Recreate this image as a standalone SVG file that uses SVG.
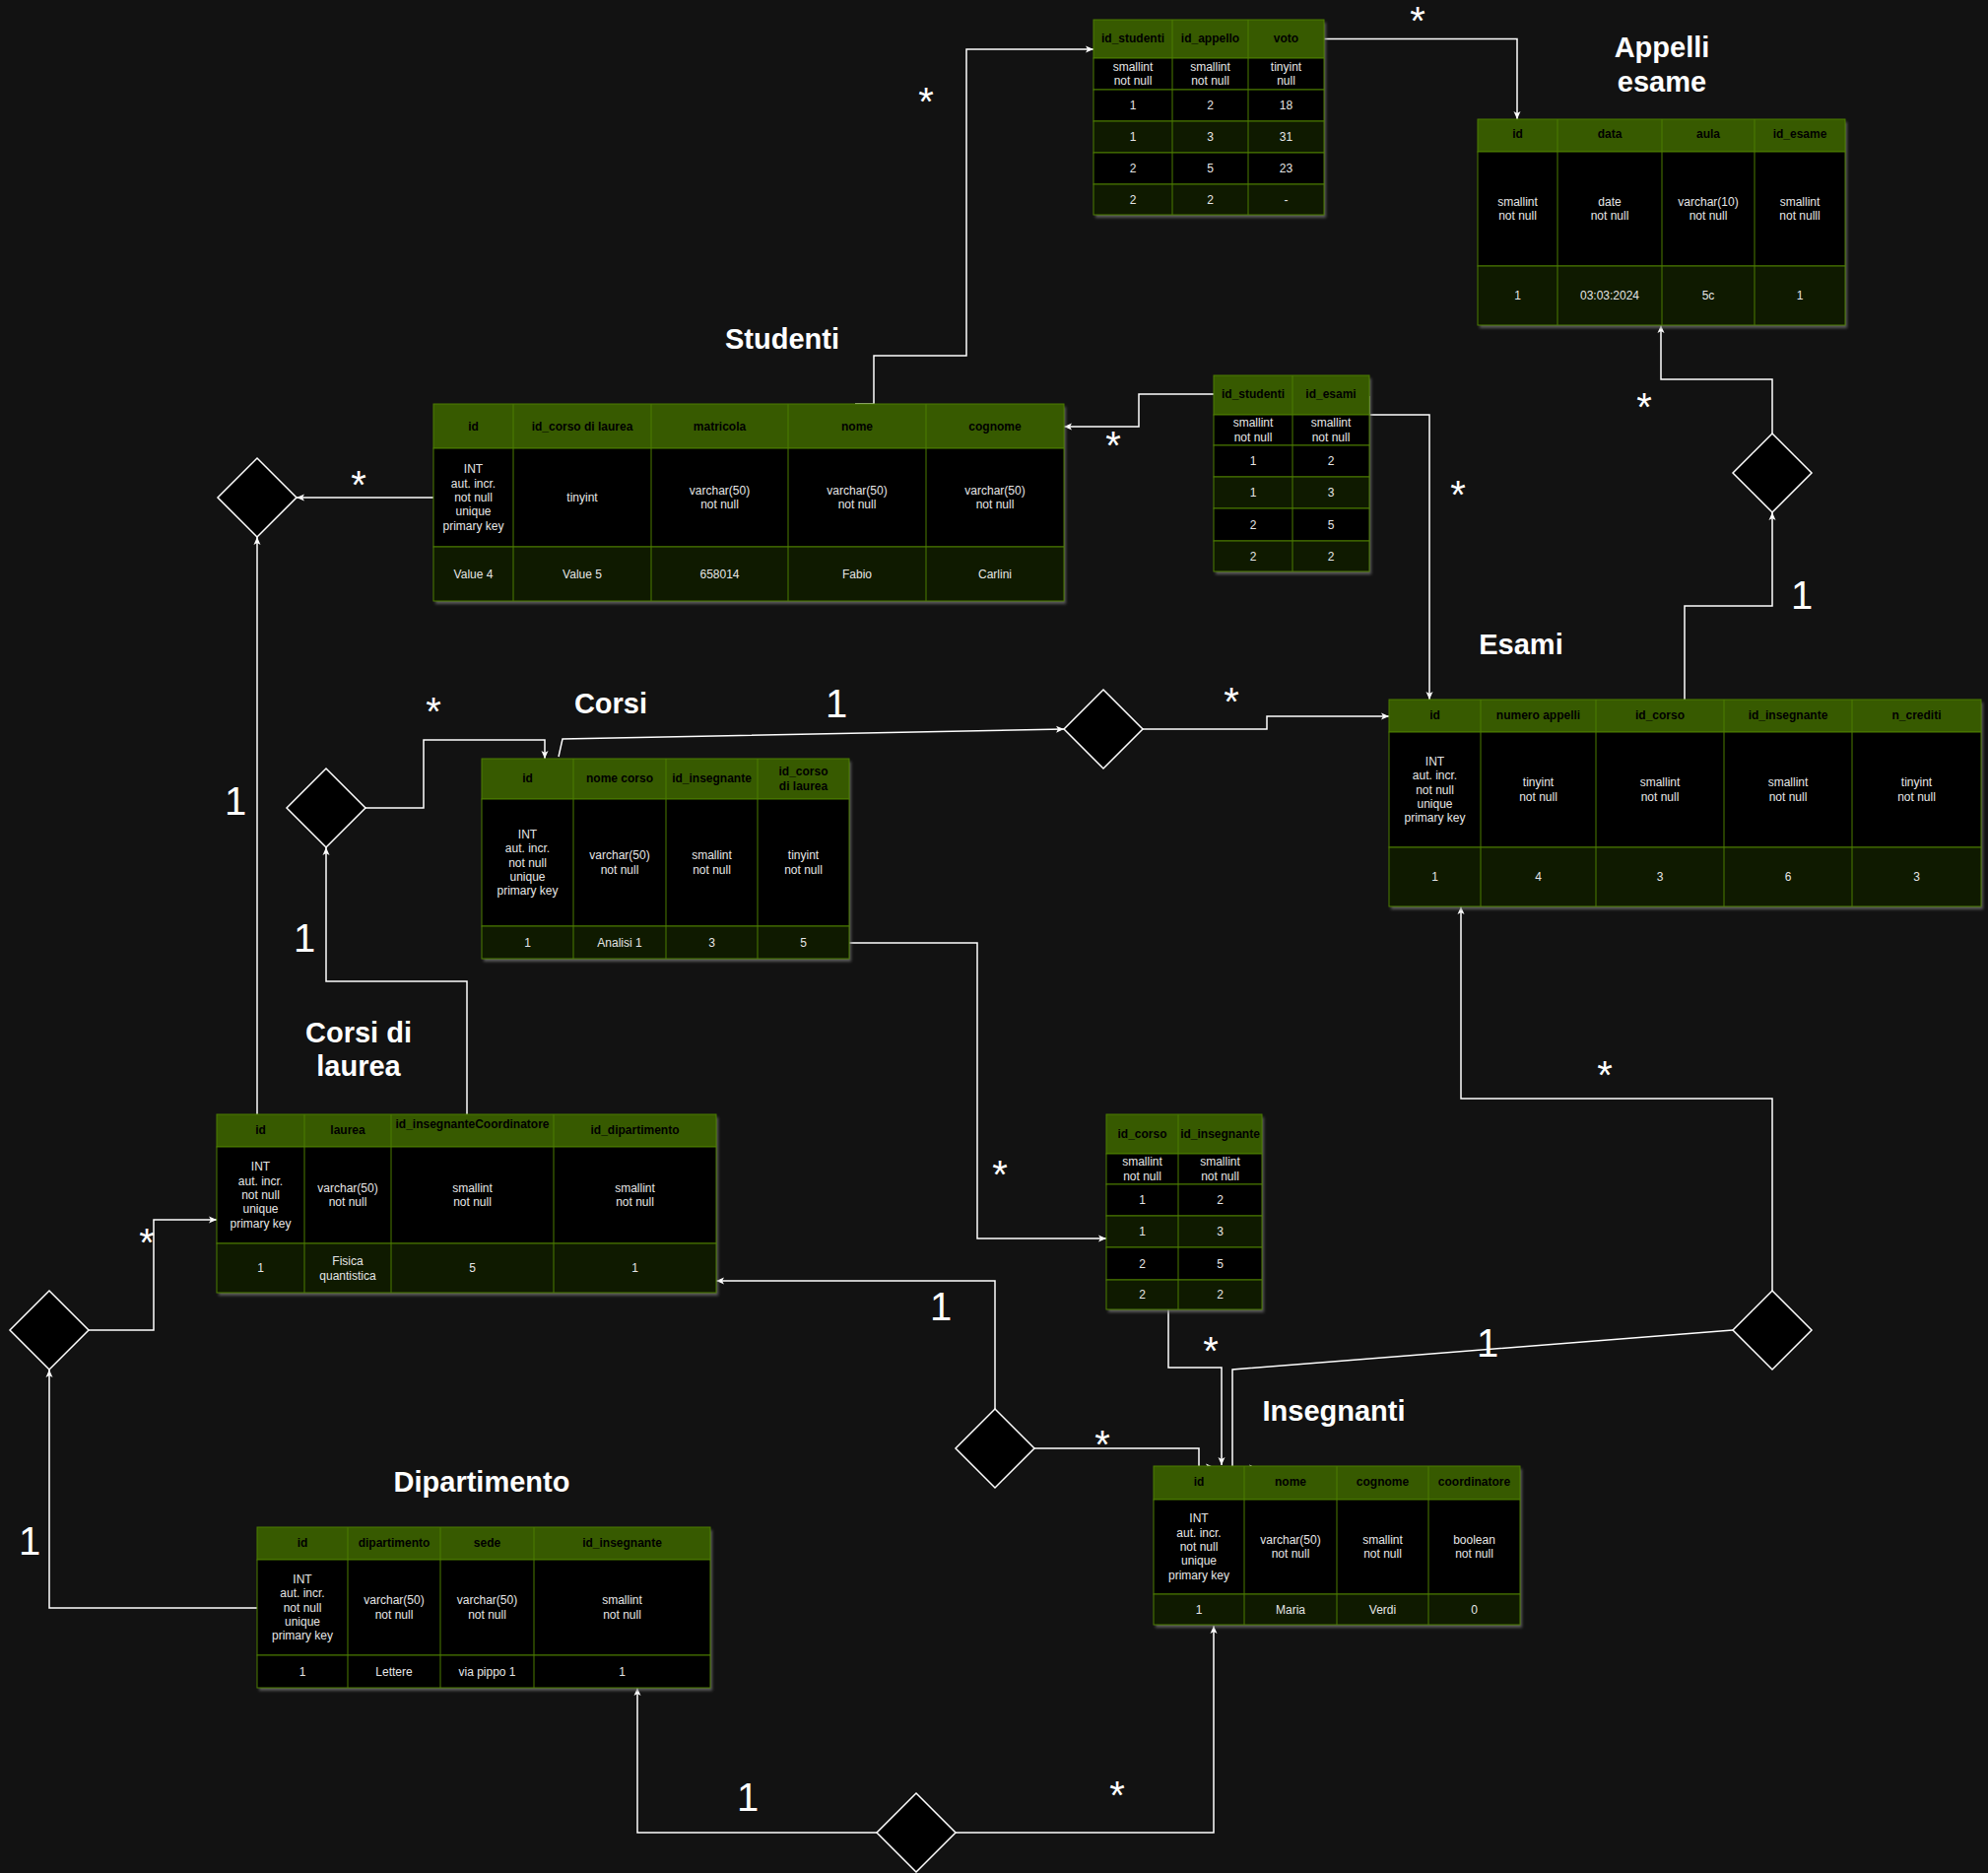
<svg xmlns="http://www.w3.org/2000/svg" width="2018" height="1901" viewBox="0 0 2018 1901">
<defs>
<filter id="sh" x="-5%" y="-5%" width="110%" height="115%">
<feDropShadow dx="2" dy="3" stdDeviation="1.5" flood-color="#6a6a6a" flood-opacity="0.8"/>
</filter>
<marker id="arr" markerUnits="userSpaceOnUse" markerWidth="10" markerHeight="10" refX="8" refY="4" orient="auto">
<path d="M0,0.5 L8,4 L0,7.5 L2,4 Z" fill="#fff"/>
</marker>
<style>
.hd{fill:#375a00;stroke:#4c7d00;stroke-width:1}
.blk{fill:#000;stroke:#4c7d00;stroke-width:1}
.dg{fill:#0f1a00;stroke:#4c7d00;stroke-width:1}
.grid{stroke:#4c7d00;stroke-width:1;fill:none}
.sh{fill:#000;filter:url(#sh)}
.th{font-family:'Liberation Sans',Arial,sans-serif;font-size:12px;font-weight:bold;fill:#000;text-anchor:middle;dominant-baseline:central}
.td{font-family:'Liberation Sans',Arial,sans-serif;font-size:12px;fill:#e6e6e6;text-anchor:middle;dominant-baseline:central}
.title{font-family:'Liberation Sans',Arial,sans-serif;font-size:29px;font-weight:bold;fill:#fff;text-anchor:middle;dominant-baseline:central}
.card{font-family:'Liberation Sans',Arial,sans-serif;font-size:40px;fill:#fff;text-anchor:middle}
.conn{fill:none;stroke:#fff;stroke-width:1.5;marker-end:url(#arr)}
.dia{fill:#000;stroke:#fff;stroke-width:1.5}
</style>
</defs>
<rect width="2018" height="1901" fill="#121212"/>

<!-- connectors -->
<g id="connectors">
<path class="conn" d="M868,410 H887 V361 H981 V50 H1110"/>
<path class="conn" d="M1344,39.5 H1540 V121"/>
<path class="conn" d="M1232,400 H1156 V433 H1080"/>
<path class="conn" d="M1390,402 V421 H1451 V710"/>
<path class="conn" d="M1710,710 V615 H1799 V520"/>
<path class="conn" d="M1799,440 V385 H1686 V330"/>
<path class="conn" d="M440,505 H301"/>
<path class="conn" d="M261,1131 V545"/>
<path class="conn" d="M474,1131 V996 H331 V860"/>
<path class="conn" d="M371,820 H430 V751 H553 V770"/>
<path class="conn" d="M567,768 L571,750 L1080,740"/>
<path class="conn" d="M1160,740 H1286 V727 H1410"/>
<path class="conn" d="M862,957 H992 V1257 H1123"/>
<path class="conn" d="M1010,1430 V1300 H727"/>
<path class="conn" d="M1050,1470 H1217 V1489 H1232"/>
<path class="conn" d="M1186,1329 V1388 H1240 V1487"/>
<path class="conn" d="M1759,1350 L1251,1390 V1490 H1276"/>
<path class="conn" d="M1799,1310 V1115 H1483 V920"/>
<path class="conn" d="M90,1350 H156 V1238 H220"/>
<path class="conn" d="M261,1632 H50 V1390"/>
<path class="conn" d="M890,1860 H647 V1713"/>
<path class="conn" d="M970,1860 H1232 V1650"/>
</g>

<!-- relationship diamonds -->
<g id="rel_studenti_corsodilaurea"><polygon class="dia" points="261,465 301,505 261,545 221,505"/></g>
<g id="rel_esami_appelli"><polygon class="dia" points="1799,440 1839,480 1799,520 1759,480"/></g>
<g id="rel_corsi_esami"><polygon class="dia" points="1120,700 1160,740 1120,780 1080,740"/></g>
<g id="rel_corsi_corsodilaurea"><polygon class="dia" points="331,780 371,820 331,860 291,820"/></g>
<g id="rel_dipartimento_corsodilaurea"><polygon class="dia" points="50,1310 90,1350 50,1390 10,1350"/></g>
<g id="rel_corsodilaurea_insegnanti"><polygon class="dia" points="1010,1430 1050,1470 1010,1510 970,1470"/></g>
<g id="rel_insegnanti_esami"><polygon class="dia" points="1799,1310 1839,1350 1799,1390 1759,1350"/></g>
<g id="rel_dipartimento_insegnanti"><polygon class="dia" points="930,1820 970,1860 930,1900 890,1860"/></g>

<!-- studenti_appelli -->
<g id="studenti_appelli">
<rect class="sh" x="1110" y="20" width="234" height="198"/>
<rect class="hd" x="1110" y="20" width="234" height="39"/>
<rect class="blk" x="1110" y="59" width="234" height="32"/>
<rect class="blk" x="1110" y="91" width="234" height="32"/>
<rect class="dg" x="1110" y="123" width="234" height="32"/>
<rect class="blk" x="1110" y="155" width="234" height="32"/>
<rect class="dg" x="1110" y="187" width="234" height="31"/>
<path class="grid" d="M1190,20V218M1267,20V218"/>
<text class="th" x="1150" y="39">id_studenti</text>
<text class="th" x="1228.5" y="39">id_appello</text>
<text class="th" x="1305.5" y="39">voto</text>
<text class="td"><tspan x="1150" y="68">smallint</tspan><tspan x="1150" y="82">not null</tspan></text>
<text class="td"><tspan x="1228.5" y="68">smallint</tspan><tspan x="1228.5" y="82">not null</tspan></text>
<text class="td"><tspan x="1305.5" y="68">tinyint</tspan><tspan x="1305.5" y="82">null</tspan></text>
<text class="td" x="1150" y="107">1</text><text class="td" x="1228.5" y="107">2</text><text class="td" x="1305.5" y="107">18</text>
<text class="td" x="1150" y="139">1</text><text class="td" x="1228.5" y="139">3</text><text class="td" x="1305.5" y="139">31</text>
<text class="td" x="1150" y="171">2</text><text class="td" x="1228.5" y="171">5</text><text class="td" x="1305.5" y="171">23</text>
<text class="td" x="1150" y="202.5">2</text><text class="td" x="1228.5" y="202.5">2</text><text class="td" x="1305.5" y="202.5">-</text>
</g>

<!-- appelli esame -->
<g id="appelli_esame">
<rect class="sh" x="1500" y="121" width="373" height="209"/>
<rect class="hd" x="1500" y="121" width="373" height="33"/>
<rect class="blk" x="1500" y="154" width="373" height="116"/>
<rect class="dg" x="1500" y="270" width="373" height="60"/>
<path class="grid" d="M1581,121V330M1687,121V330M1781,121V330"/>
<text class="th" x="1540.5" y="136">id</text>
<text class="th" x="1634" y="136">data</text>
<text class="th" x="1734" y="136">aula</text>
<text class="th" x="1827" y="136">id_esame</text>
<text class="td"><tspan x="1540.5" y="205">smallint</tspan><tspan x="1540.5" y="219">not null</tspan></text>
<text class="td"><tspan x="1634" y="205">date</tspan><tspan x="1634" y="219">not null</tspan></text>
<text class="td"><tspan x="1734" y="205">varchar(10)</tspan><tspan x="1734" y="219">not null</tspan></text>
<text class="td"><tspan x="1827" y="205">smallint</tspan><tspan x="1827" y="219">not nulll</tspan></text>
<text class="td" x="1540.5" y="300">1</text>
<text class="td" x="1634" y="300">03:03:2024</text>
<text class="td" x="1734" y="300">5c</text>
<text class="td" x="1827" y="300">1</text>
</g>

<!-- studenti -->
<g id="studenti">
<rect class="sh" x="440" y="410" width="640" height="200"/>
<rect class="hd" x="440" y="410" width="640" height="45"/>
<rect class="blk" x="440" y="455" width="640" height="100"/>
<rect class="dg" x="440" y="555" width="640" height="55"/>
<path class="grid" d="M521,410V610M661,410V610M800,410V610M940,410V610"/>
<text class="th" x="480.5" y="432.5">id</text>
<text class="th" x="591" y="432.5">id_corso di laurea</text>
<text class="th" x="730.5" y="432.5">matricola</text>
<text class="th" x="870" y="432.5">nome</text>
<text class="th" x="1010" y="432.5">cognome</text>
<text class="td"><tspan x="480.5" y="476.4">INT</tspan><tspan x="480.5" y="490.7">aut. incr.</tspan><tspan x="480.5" y="505">not null</tspan><tspan x="480.5" y="519.3">unique</tspan><tspan x="480.5" y="533.6">primary key</tspan></text>
<text class="td" x="591" y="505">tinyint</text>
<text class="td"><tspan x="730.5" y="497.9">varchar(50)</tspan><tspan x="730.5" y="512.1">not null</tspan></text>
<text class="td"><tspan x="870" y="497.9">varchar(50)</tspan><tspan x="870" y="512.1">not null</tspan></text>
<text class="td"><tspan x="1010" y="497.9">varchar(50)</tspan><tspan x="1010" y="512.1">not null</tspan></text>
<text class="td" x="480.5" y="582.5">Value 4</text>
<text class="td" x="591" y="582.5">Value 5</text>
<text class="td" x="730.5" y="582.5">658014</text>
<text class="td" x="870" y="582.5">Fabio</text>
<text class="td" x="1010" y="582.5">Carlini</text>
</g>

<!-- studenti_esami -->
<g id="studenti_esami">
<rect class="sh" x="1232" y="381" width="158" height="199"/>
<rect class="hd" x="1232" y="381" width="158" height="40"/>
<rect class="blk" x="1232" y="421" width="158" height="31"/>
<rect class="blk" x="1232" y="452" width="158" height="32"/>
<rect class="dg" x="1232" y="484" width="158" height="32"/>
<rect class="blk" x="1232" y="516" width="158" height="33"/>
<rect class="dg" x="1232" y="549" width="158" height="31"/>
<path class="grid" d="M1312,381V580"/>
<text class="th" x="1272" y="400">id_studenti</text>
<text class="th" x="1351" y="400">id_esami</text>
<text class="td"><tspan x="1272" y="429.4">smallint</tspan><tspan x="1272" y="443.6">not null</tspan></text>
<text class="td"><tspan x="1351" y="429.4">smallint</tspan><tspan x="1351" y="443.6">not null</tspan></text>
<text class="td" x="1272" y="468">1</text><text class="td" x="1351" y="468">2</text>
<text class="td" x="1272" y="500">1</text><text class="td" x="1351" y="500">3</text>
<text class="td" x="1272" y="532.5">2</text><text class="td" x="1351" y="532.5">5</text>
<text class="td" x="1272" y="564.5">2</text><text class="td" x="1351" y="564.5">2</text>
</g>

<!-- esami -->
<g id="esami">
<rect class="sh" x="1410" y="710" width="601" height="210"/>
<rect class="hd" x="1410" y="710" width="601" height="33"/>
<rect class="blk" x="1410" y="743" width="601" height="117"/>
<rect class="dg" x="1410" y="860" width="601" height="60"/>
<path class="grid" d="M1503,710V920M1620,710V920M1750,710V920M1880,710V920"/>
<text class="th" x="1456.5" y="725.5">id</text>
<text class="th" x="1561.5" y="725.5">numero appelli</text>
<text class="th" x="1685" y="725.5">id_corso</text>
<text class="th" x="1815" y="725.5">id_insegnante</text>
<text class="th" x="1945.5" y="725.5">n_crediti</text>
<text class="td"><tspan x="1456.5" y="772.9">INT</tspan><tspan x="1456.5" y="787.2">aut. incr.</tspan><tspan x="1456.5" y="801.5">not null</tspan><tspan x="1456.5" y="815.8">unique</tspan><tspan x="1456.5" y="830.1">primary key</tspan></text>
<text class="td"><tspan x="1561.5" y="794.4">tinyint</tspan><tspan x="1561.5" y="808.6">not null</tspan></text>
<text class="td"><tspan x="1685" y="794.4">smallint</tspan><tspan x="1685" y="808.6">not null</tspan></text>
<text class="td"><tspan x="1815" y="794.4">smallint</tspan><tspan x="1815" y="808.6">not null</tspan></text>
<text class="td"><tspan x="1945.5" y="794.4">tinyint</tspan><tspan x="1945.5" y="808.6">not null</tspan></text>
<text class="td" x="1456.5" y="890">1</text>
<text class="td" x="1561.5" y="890">4</text>
<text class="td" x="1685" y="890">3</text>
<text class="td" x="1815" y="890">6</text>
<text class="td" x="1945.5" y="890">3</text>
</g>

<!-- corsi -->
<g id="corsi">
<rect class="sh" x="489" y="770" width="373" height="203"/>
<rect class="hd" x="489" y="770" width="373" height="41"/>
<rect class="blk" x="489" y="811" width="373" height="129"/>
<rect class="dg" x="489" y="940" width="373" height="33"/>
<path class="grid" d="M582,770V973M676,770V973M769,770V973"/>
<text class="th" x="535.5" y="790">id</text>
<text class="th" x="629" y="790">nome corso</text>
<text class="th" x="722.5" y="790">id_insegnante</text>
<text class="th"><tspan x="815.5" y="782.5">id_corso</tspan><tspan x="815.5" y="797.5">di laurea</tspan></text>
<text class="td"><tspan x="535.5" y="846.9">INT</tspan><tspan x="535.5" y="861.2">aut. incr.</tspan><tspan x="535.5" y="875.5">not null</tspan><tspan x="535.5" y="889.8">unique</tspan><tspan x="535.5" y="904.1">primary key</tspan></text>
<text class="td"><tspan x="629" y="868.4">varchar(50)</tspan><tspan x="629" y="882.6">not null</tspan></text>
<text class="td"><tspan x="722.5" y="868.4">smallint</tspan><tspan x="722.5" y="882.6">not null</tspan></text>
<text class="td"><tspan x="815.5" y="868.4">tinyint</tspan><tspan x="815.5" y="882.6">not null</tspan></text>
<text class="td" x="535.5" y="956.5">1</text>
<text class="td" x="629" y="956.5">Analisi 1</text>
<text class="td" x="722.5" y="956.5">3</text>
<text class="td" x="815.5" y="956.5">5</text>
</g>

<!-- corsi di laurea -->
<g id="corsi_di_laurea">
<rect class="sh" x="220" y="1131" width="507" height="181"/>
<rect class="hd" x="220" y="1131" width="507" height="33"/>
<rect class="blk" x="220" y="1164" width="507" height="98"/>
<rect class="dg" x="220" y="1262" width="507" height="50"/>
<path class="grid" d="M309,1131V1312M397,1131V1312M562,1131V1312"/>
<text class="th" x="264.5" y="1147">id</text>
<text class="th" x="353" y="1147">laurea</text>
<text class="th" x="479.5" y="1141">id_insegnanteCoordinatore</text>
<text class="th" x="644.5" y="1147">id_dipartimento</text>
<text class="td"><tspan x="264.5" y="1184.4">INT</tspan><tspan x="264.5" y="1198.7">aut. incr.</tspan><tspan x="264.5" y="1213">not null</tspan><tspan x="264.5" y="1227.3">unique</tspan><tspan x="264.5" y="1241.6">primary key</tspan></text>
<text class="td"><tspan x="353" y="1205.9">varchar(50)</tspan><tspan x="353" y="1220.1">not null</tspan></text>
<text class="td"><tspan x="479.5" y="1205.9">smallint</tspan><tspan x="479.5" y="1220.1">not null</tspan></text>
<text class="td"><tspan x="644.5" y="1205.9">smallint</tspan><tspan x="644.5" y="1220.1">not null</tspan></text>
<text class="td" x="264.5" y="1287">1</text>
<text class="td"><tspan x="353" y="1280">Fisica</tspan><tspan x="353" y="1294.5">quantistica</tspan></text>
<text class="td" x="479.5" y="1287">5</text>
<text class="td" x="644.5" y="1287">1</text>
</g>

<!-- corsi_insegnanti -->
<g id="corsi_insegnanti">
<rect class="sh" x="1123" y="1131" width="158" height="198"/>
<rect class="hd" x="1123" y="1131" width="158" height="40"/>
<rect class="blk" x="1123" y="1171" width="158" height="31"/>
<rect class="blk" x="1123" y="1202" width="158" height="32"/>
<rect class="dg" x="1123" y="1234" width="158" height="32"/>
<rect class="blk" x="1123" y="1266" width="158" height="33"/>
<rect class="dg" x="1123" y="1299" width="158" height="30"/>
<path class="grid" d="M1196,1131V1329"/>
<text class="th" x="1159.5" y="1150.5">id_corso</text>
<text class="th" x="1238.5" y="1150.5">id_insegnante</text>
<text class="td"><tspan x="1159.5" y="1179.4">smallint</tspan><tspan x="1159.5" y="1193.6">not null</tspan></text>
<text class="td"><tspan x="1238.5" y="1179.4">smallint</tspan><tspan x="1238.5" y="1193.6">not null</tspan></text>
<text class="td" x="1159.5" y="1218">1</text><text class="td" x="1238.5" y="1218">2</text>
<text class="td" x="1159.5" y="1250">1</text><text class="td" x="1238.5" y="1250">3</text>
<text class="td" x="1159.5" y="1282.5">2</text><text class="td" x="1238.5" y="1282.5">5</text>
<text class="td" x="1159.5" y="1314">2</text><text class="td" x="1238.5" y="1314">2</text>
</g>

<!-- insegnanti -->
<g id="insegnanti">
<rect class="sh" x="1171" y="1488" width="372" height="161"/>
<rect class="hd" x="1171" y="1488" width="372" height="34"/>
<rect class="blk" x="1171" y="1522" width="372" height="96"/>
<rect class="dg" x="1171" y="1618" width="372" height="31"/>
<path class="grid" d="M1263,1488V1649M1357,1488V1649M1450,1488V1649"/>
<text class="th" x="1217" y="1504">id</text>
<text class="th" x="1310" y="1504">nome</text>
<text class="th" x="1403.5" y="1504">cognome</text>
<text class="th" x="1496.5" y="1504">coordinatore</text>
<text class="td"><tspan x="1217" y="1541.4">INT</tspan><tspan x="1217" y="1555.7">aut. incr.</tspan><tspan x="1217" y="1570">not null</tspan><tspan x="1217" y="1584.3">unique</tspan><tspan x="1217" y="1598.6">primary key</tspan></text>
<text class="td"><tspan x="1310" y="1562.9">varchar(50)</tspan><tspan x="1310" y="1577.1">not null</tspan></text>
<text class="td"><tspan x="1403.5" y="1562.9">smallint</tspan><tspan x="1403.5" y="1577.1">not null</tspan></text>
<text class="td"><tspan x="1496.5" y="1562.9">boolean</tspan><tspan x="1496.5" y="1577.1">not null</tspan></text>
<text class="td" x="1217" y="1633.5">1</text>
<text class="td" x="1310" y="1633.5">Maria</text>
<text class="td" x="1403.5" y="1633.5">Verdi</text>
<text class="td" x="1496.5" y="1633.5">0</text>
</g>

<!-- dipartimento -->
<g id="dipartimento">
<rect class="sh" x="261" y="1550" width="460" height="163"/>
<rect class="hd" x="261" y="1550" width="460" height="33"/>
<rect class="blk" x="261" y="1583" width="460" height="97"/>
<rect class="blk" x="261" y="1680" width="460" height="33"/>
<path class="grid" d="M353,1550V1713M447,1550V1713M542,1550V1713"/>
<text class="th" x="307" y="1566">id</text>
<text class="th" x="400" y="1566">dipartimento</text>
<text class="th" x="494.5" y="1566">sede</text>
<text class="th" x="631.5" y="1566">id_insegnante</text>
<text class="td"><tspan x="307" y="1602.9">INT</tspan><tspan x="307" y="1617.2">aut. incr.</tspan><tspan x="307" y="1631.5">not null</tspan><tspan x="307" y="1645.8">unique</tspan><tspan x="307" y="1660.1">primary key</tspan></text>
<text class="td"><tspan x="400" y="1624.4">varchar(50)</tspan><tspan x="400" y="1638.6">not null</tspan></text>
<text class="td"><tspan x="494.5" y="1624.4">varchar(50)</tspan><tspan x="494.5" y="1638.6">not null</tspan></text>
<text class="td"><tspan x="631.5" y="1624.4">smallint</tspan><tspan x="631.5" y="1638.6">not null</tspan></text>
<text class="td" x="307" y="1696.5">1</text>
<text class="td" x="400" y="1696.5">Lettere</text>
<text class="td" x="494.5" y="1696.5">via pippo 1</text>
<text class="td" x="631.5" y="1696.5">1</text>
</g>

<!-- titles -->
<g id="titles">
<text class="title"><tspan x="1687" y="48">Appelli</tspan><tspan x="1687" y="83">esame</tspan></text>
<text class="title" x="794" y="344">Studenti</text>
<text class="title" x="1544" y="654">Esami</text>
<text class="title" x="620" y="714">Corsi</text>
<text class="title"><tspan x="364" y="1048">Corsi di</tspan><tspan x="364" y="1082">laurea</tspan></text>
<text class="title" x="1354" y="1432">Insegnanti</text>
<text class="title" x="489" y="1504">Dipartimento</text>
</g>

<!-- cardinalities -->
<g id="cardinalities">
<text class="card" x="1439" y="35">*</text>
<text class="card" x="940" y="117">*</text>
<text class="card" x="364" y="506">*</text>
<text class="card" x="1130" y="466">*</text>
<text class="card" x="1480" y="516">*</text>
<text class="card" x="1669" y="427">*</text>
<text class="card" x="440" y="736">*</text>
<text class="card" x="1250" y="726">*</text>
<text class="card" x="1015" y="1206">*</text>
<text class="card" x="149" y="1275">*</text>
<text class="card" x="1229" y="1385">*</text>
<text class="card" x="1119" y="1480">*</text>
<text class="card" x="1629" y="1105">*</text>
<text class="card" x="1134" y="1836">*</text>
<text class="card" x="1829" y="618">1</text>
<text class="card" x="849" y="728">1</text>
<text class="card" x="239" y="827">1</text>
<text class="card" x="309" y="966">1</text>
<text class="card" x="955" y="1340">1</text>
<text class="card" x="1510" y="1377">1</text>
<text class="card" x="30" y="1578">1</text>
<text class="card" x="759" y="1838">1</text>
</g>
</svg>
